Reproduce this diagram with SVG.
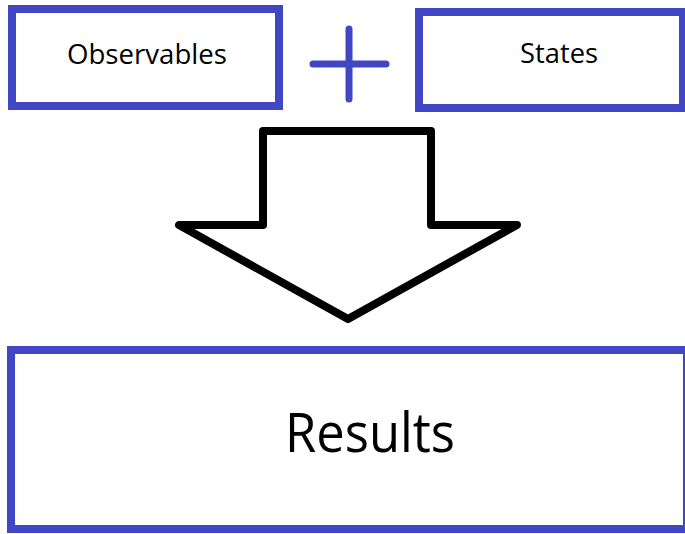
<svg xmlns="http://www.w3.org/2000/svg" width="685" height="534" viewBox="0 0 685 534">
  <style>
    .box { fill: #ffffff; stroke: #4046c4; stroke-width: 8; }
    .plus { stroke: #4046c4; stroke-width: 7; stroke-linecap: round; fill: none; }
    .arrow { fill: #ffffff; stroke: #000000; stroke-width: 8; stroke-linejoin: round; }
    .label { font-family: "Open Sans", "Liberation Sans", sans-serif; fill: #000000; text-anchor: middle; }
  </style>
  <rect width="685" height="534" fill="#ffffff"/>
  <g id="observables">
    <rect class="box" x="12" y="9" width="267" height="97"/>
    <text class="label" x="147" y="64" font-size="27" textLength="160" lengthAdjust="spacingAndGlyphs">Observables</text>
  </g>
  <g id="plus">
    <line class="plus" x1="313" y1="64" x2="386" y2="64"/>
    <line class="plus" x1="349" y1="29" x2="349" y2="99"/>
  </g>
  <g id="states">
    <rect class="box" x="419" y="12" width="264" height="96"/>
    <text class="label" x="559" y="63" font-size="27" textLength="78" lengthAdjust="spacingAndGlyphs">States</text>
  </g>
  <g id="connectors">
    <polygon class="arrow" points="263,131 431,131 431,225 517,225 348,319 179,225 263,225"/>
  </g>
  <g id="results">
    <rect class="box" x="11" y="350" width="676" height="179" stroke-width="7"/>
    <text class="label" x="370" y="452" font-size="54" textLength="170" lengthAdjust="spacingAndGlyphs">Results</text>
  </g>
</svg>
